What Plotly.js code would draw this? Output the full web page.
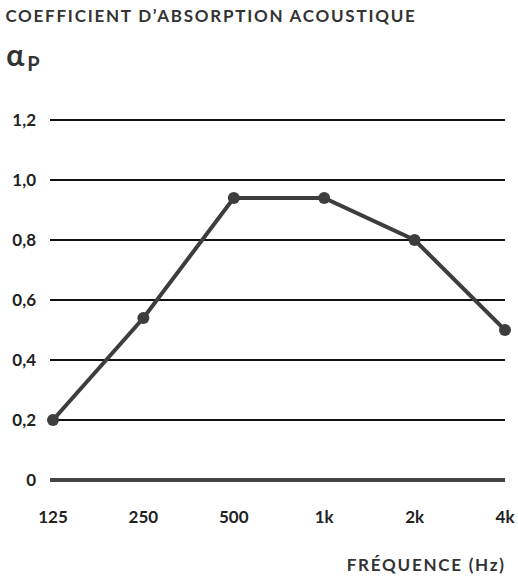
<!DOCTYPE html>
<html><head><meta charset="utf-8">
<script src="https://cdn.plot.ly/plotly-3.0.1.min.js"></script>
<style>
body{margin:0;background:#fff}
#chart .annotation-text{letter-spacing:1.75px}
</style>
</head><body>
<div id="chart" style="width:518px;height:580px"></div>
<script>
const frequencies = ["125", "250", "500", "1k", "2k", "4k"];
const absorption = [0.20, 0.54, 0.94, 0.94, 0.80, 0.50];
const yTickValues = [0, 0.2, 0.4, 0.6, 0.8, 1.0, 1.2];
const yTickLabels = ["0", "0,2", "0,4", "0,6", "0,8", "1,0", "1,2"];

const FONT = "Lato, 'Open Sans', sans-serif";
const trace = {
  x: frequencies, y: absorption, type: "scatter", mode: "lines+markers",
  line: {color: "#3d3d3d", width: 4},
  marker: {color: "#3d3d3d", size: 12},
  cliponaxis: false, hoverinfo: "skip"
};
const W = 518 - 50 - 13, H = 380;
const layout = {
  width: 518, height: 580,
  margin: {l: 50, r: 13, t: 110, b: 90},
  paper_bgcolor: "#fff", plot_bgcolor: "#fff",
  showlegend: false,
  font: {family: FONT, color: "#222"},
  xaxis: {
    type: "category", range: [-0.033, 5.0],
    showgrid: false, zeroline: false, showline: false, ticks: "",
    tickfont: {family: FONT, size: 17, color: "#222", weight: "bold"},
    ticklabelstandoff: 15
  },
  yaxis: {
    range: [-0.0333, 1.2333],
    tickvals: yTickValues, ticktext: yTickLabels,
    showgrid: true, gridcolor: "#111", gridwidth: 1.5,
    zeroline: true, zerolinecolor: "#444", zerolinewidth: 4,
    showline: false, ticks: "",
    tickfont: {family: FONT, size: 17, color: "#222", weight: "bold"},
    ticklabelstandoff: 13
  },
  annotations: [
    {text: "COEFFICIENT D’ABSORPTION ACOUSTIQUE", xref: "paper", yref: "paper",
     x: (211-50)/W, xanchor: "center", y: 1 + (110-15)/H, yanchor: "middle", showarrow: false,
     font: {family: FONT, size: 17, color: "#333", weight: "bold"}},
    {text: "α", xref: "paper", yref: "paper",
     x: (16-50)/W, xanchor: "center", y: 1 + (110-54)/H, yanchor: "middle", showarrow: false,
     font: {family: FONT, size: 30, color: "#333", weight: "bold"}},
    {text: "P", xref: "paper", yref: "paper",
     x: (34-50)/W, xanchor: "center", y: 1 + (110-63)/H, yanchor: "middle", showarrow: false,
     font: {family: FONT, size: 20, color: "#333", weight: "bold"}},
    {text: "FRÉQUENCE (Hz)", xref: "paper", yref: "paper",
     x: (426-50)/W, xanchor: "center", y: -(564-490)/H, yanchor: "middle", showarrow: false,
     font: {family: FONT, size: 17, color: "#333", weight: "bold"}}
  ]
};
Plotly.newPlot("chart", [trace], layout, {displayModeBar: false, staticPlot: true});
</script>
</body></html>
